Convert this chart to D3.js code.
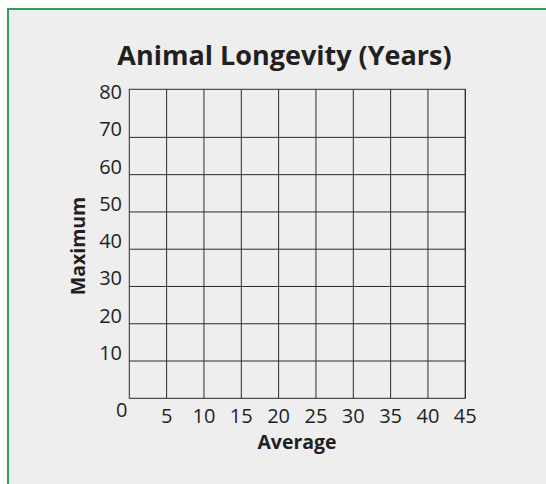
<!DOCTYPE html>
<html>
<head>
<meta charset="utf-8">
<script src="https://cdn.jsdelivr.net/npm/d3@7"></script>
<style>
  html, body { margin: 0; padding: 0; background: #ffffff; }
  svg { display: block; }
  text { font-family: "Open Sans", "Noto Sans", sans-serif; fill: #231f20; }
</style>
</head>
<body>
<svg id="chart" width="546" height="484"></svg>
<script>
// Chart text and axis values
const chartTitle = "Animal Longevity (Years)";
const xTitle = "Average";
const yTitle = "Maximum";
const xTicks = [5, 10, 15, 20, 25, 30, 35, 40, 45];
const yTicks = [10, 20, 30, 40, 50, 60, 70, 80];
const originLabel = "0";
const xDomain = [0, 45];
const yDomain = [0, 82.9];   // grid frame runs a little above the 80 line

const W = 546, H = 484;
const svg = d3.select("#chart");

// panel background with green rule on top and left
svg.append("rect")
  .attr("x", 7).attr("y", 8)
  .attr("width", W).attr("height", H)
  .attr("fill", "#eeeeee");
svg.append("path")
  .attr("d", `M8,${H} V9 H${W}`)
  .attr("fill", "none")
  .attr("stroke", "#2f9d5e")
  .attr("stroke-width", 2);

const plot = { left: 129.3, right: 465.3, top: 89.3, bottom: 398.3 };
const x = d3.scaleLinear().domain(xDomain).range([plot.left, plot.right]);
const y = d3.scaleLinear().domain(yDomain).range([plot.bottom, plot.top]);

const grid = svg.append("g").attr("stroke", "#2b2b2b").attr("stroke-width", 1).attr("fill", "none");

// vertical grid lines
grid.selectAll("line.v")
  .data(xTicks)
  .join("line")
  .attr("class", "v")
  .attr("x1", d => x(d)).attr("x2", d => x(d))
  .attr("y1", y(yDomain[0])).attr("y2", y(yDomain[1]));

// horizontal grid lines (80 is replaced by the frame top)
grid.selectAll("line.h")
  .data(yTicks.filter(d => d < 80))
  .join("line")
  .attr("class", "h")
  .attr("x1", x(xDomain[0])).attr("x2", x(xDomain[1]))
  .attr("y1", d => y(d)).attr("y2", d => y(d));

// frame
grid.append("rect")
  .attr("x", x(xDomain[0])).attr("y", y(yDomain[1]))
  .attr("width", x(xDomain[1]) - x(xDomain[0]))
  .attr("height", y(yDomain[0]) - y(yDomain[1]));

// y tick labels
svg.append("g").selectAll("text")
  .data(yTicks)
  .join("text")
  .attr("x", plot.left - 7.3)
  .attr("y", d => y(d) - 1)
  .attr("text-anchor", "end")
  .attr("font-size", 20)
  .text(d => d);

// x tick labels
svg.append("g").selectAll("text")
  .data(xTicks)
  .join("text")
  .attr("x", d => x(d))
  .attr("y", plot.bottom + 25)
  .attr("text-anchor", "middle")
  .attr("font-size", 20)
  .text(d => d);

// shared origin label
svg.append("text")
  .attr("x", plot.left - 7.5)
  .attr("y", plot.bottom + 19)
  .attr("text-anchor", "middle")
  .attr("font-size", 20)
  .text(originLabel);

// titles
svg.append("text")
  .attr("x", 284.5).attr("y", 65)
  .attr("text-anchor", "middle")
  .attr("font-size", 27)
  .attr("font-weight", "bold")
  .text(chartTitle);

svg.append("text")
  .attr("x", 297).attr("y", 449.3)
  .attr("text-anchor", "middle")
  .attr("font-size", 19.5)
  .attr("font-weight", "bold")
  .text(xTitle);

svg.append("text")
  .attr("transform", "translate(85,246) rotate(-90)")
  .attr("text-anchor", "middle")
  .attr("font-size", 19.5)
  .attr("font-weight", "bold")
  .text(yTitle);
</script>
</body>
</html>
